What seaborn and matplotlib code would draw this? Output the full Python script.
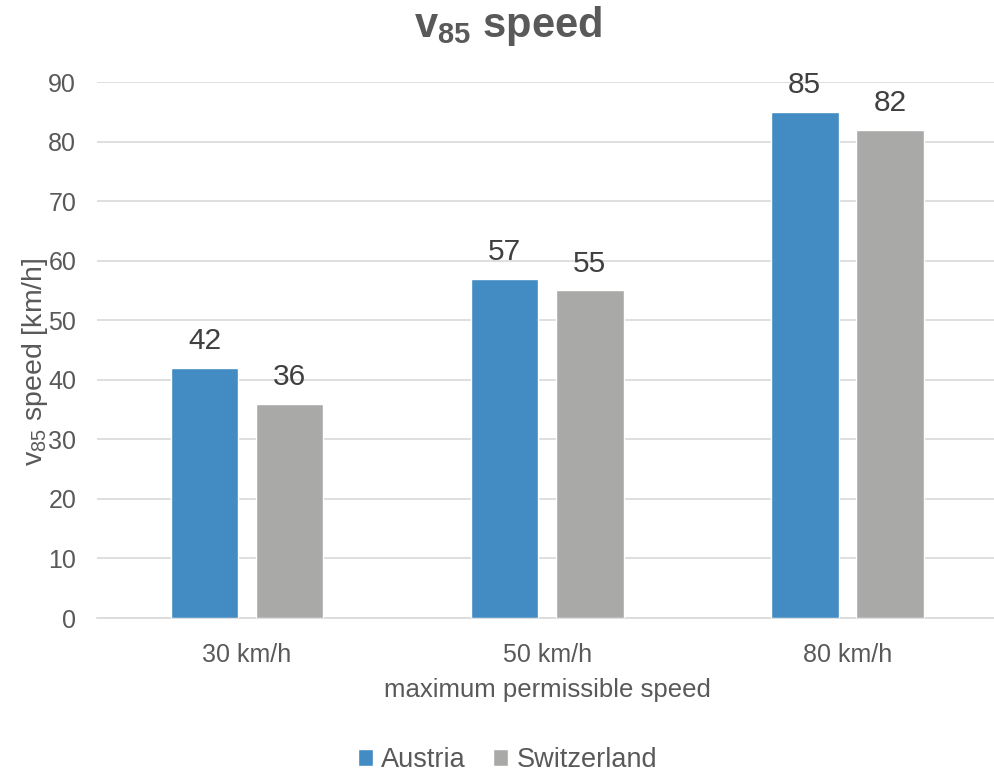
import numpy as np
import pandas as pd

import matplotlib
matplotlib.use("Agg")
import matplotlib.pyplot as plt
import seaborn as sns

categories = ["30 km/h", "50 km/h", "80 km/h"]
austria = [42, 57, 85]
switzerland = [36, 55, 82]
series_names = ["Austria", "Switzerland"]

TEXT_GREY = "#595959"
LABEL_GREY = "#404040"
GRID_GREY = "#D9D9D9"
palette = {"Austria": "#428BC3", "Switzerland": "#A9AAA8"}

df = pd.DataFrame({
    "limit": categories * 2,
    "speed": austria + switzerland,
    "country": [series_names[0]] * 3 + [series_names[1]] * 3,
})


def plot_speeds():
    sns.set_theme(style="white")
    plt.rcParams["font.family"] = ["Liberation Sans", "DejaVu Sans"]
    plt.rcParams["mathtext.fontset"] = "custom"
    plt.rcParams["mathtext.rm"] = "Liberation Sans"
    plt.rcParams["mathtext.it"] = "Liberation Sans:italic"
    plt.rcParams["mathtext.bf"] = "Liberation Sans:bold"

    fig = plt.figure(figsize=(9.95, 7.73), dpi=100)
    ax = fig.add_axes([0.0975, 0.2005, 0.905, 0.6934])

    sns.barplot(data=df, x="limit", y="speed", hue="country", palette=palette,
                width=0.568, gap=0.208, saturation=1, ax=ax, zorder=3)

    for cont in ax.containers:
        ax.bar_label(cont, fmt="%d", padding=9, fontsize=21.5, color=LABEL_GREY)

    ax.set_ylim(0, 90)
    ax.set_xlim(-0.5, 2.5)
    ax.set_yticks(range(0, 91, 10))
    ax.yaxis.grid(True, color=GRID_GREY, linewidth=1.2, zorder=0)
    ax.set_axisbelow(True)
    for side in ["top", "right", "left"]:
        ax.spines[side].set_visible(False)
    ax.spines["bottom"].set_color(GRID_GREY)
    ax.spines["bottom"].set_linewidth(1.2)
    ax.tick_params(axis="both", length=0, labelsize=18, colors=TEXT_GREY)
    ax.tick_params(axis="x", pad=18)
    ax.tick_params(axis="y", pad=15)

    ax.set_xlabel("maximum permissible speed", fontsize=18.5, color=TEXT_GREY, labelpad=8)
    ax.set_ylabel(r"v$_{85}$ speed [km/h]", fontsize=20.5, color=TEXT_GREY)
    ax.yaxis.set_label_coords(-0.052, 0.478)
    fig.text(0.511, 0.966, r"$\mathbf{v_{85}}$ speed", ha="center", va="center",
             fontsize=30, fontweight="bold", color=TEXT_GREY)

    ax.legend(loc="center", bbox_to_anchor=(0.456, -0.265), ncol=2, frameon=False,
              fontsize=19.5, labelcolor=TEXT_GREY, handlelength=0.55, handleheight=0.55,
              handletextpad=0.3, columnspacing=1.0)

    fig.savefig("out.png", dpi=100)


def main():
    plot_speeds()


if __name__ == "__main__":
    main()
